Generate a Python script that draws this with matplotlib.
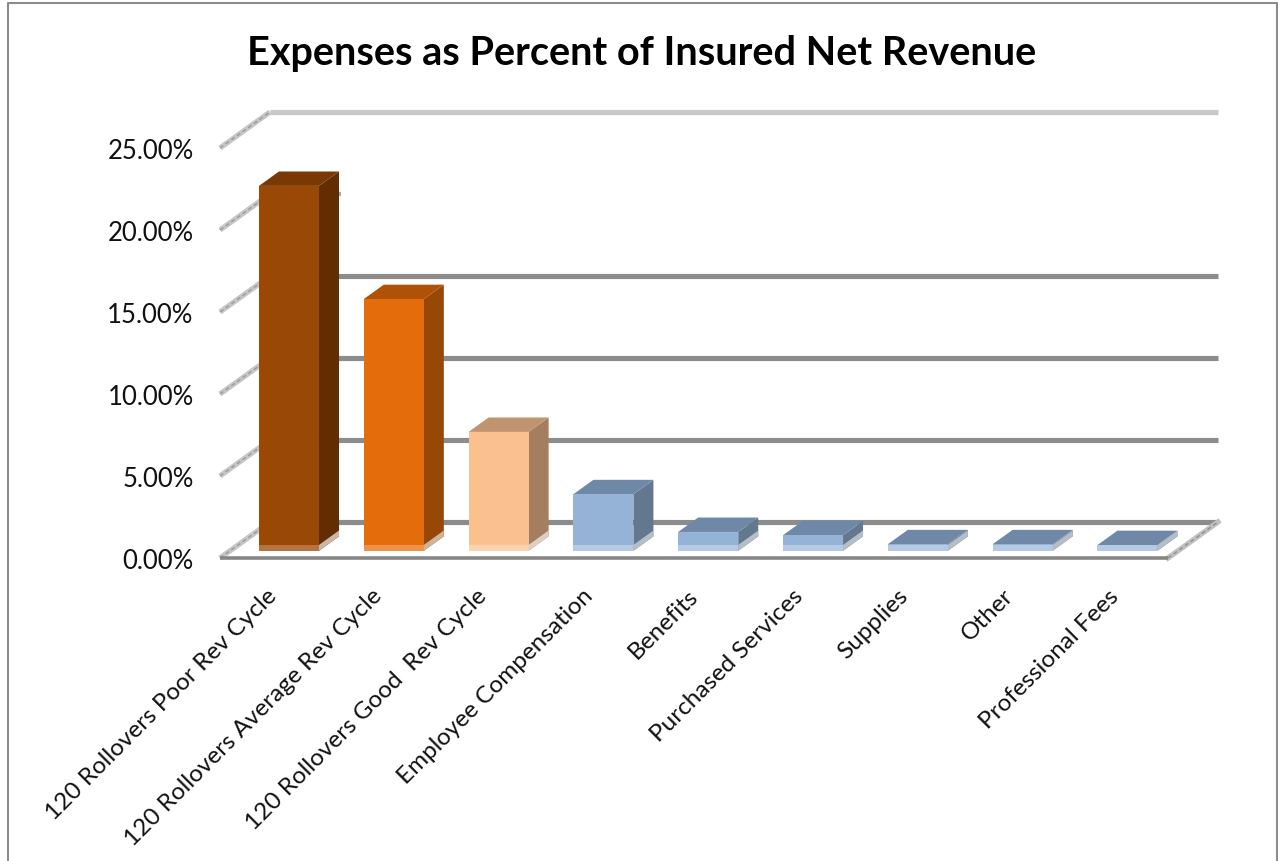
import numpy as np
import matplotlib
matplotlib.use('Agg')
import matplotlib.pyplot as plt
from matplotlib.patches import Polygon
from matplotlib.transforms import ScaledTranslation

W, H = 1278, 862

categories = ['120 Rollovers Poor Rev Cycle', '120 Rollovers Average Rev Cycle',
              '120 Rollovers Good  Rev Cycle', 'Employee Compensation', 'Benefits',
              'Purchased Services', 'Supplies', 'Other', 'Professional Fees']
values = [22.25, 15.35, 7.25, 3.45, 1.15, 0.95, 0.4, 0.4, 0.35]
y_ticks = [0, 5, 10, 15, 20, 25]
y_labels = ['0.00%', '5.00%', '10.00%', '15.00%', '20.00%', '25.00%']

front_colors = ['#9A4806', '#E46C0A', '#FAC090'] + ['#95B3D7'] * 6
side_colors = ['#622D02', '#974706', '#A57E5F'] + ['#63778F'] * 6
top_colors = ['#7A3904', '#AF5207', '#BF946F'] + ['#7088A8'] * 6
foot_colors = ['#B87440', '#EE9248', '#FBD3B0'] + ['#B4CAE4'] * 6
side_foot_colors = ['#C9B8A6', '#D0B49A', '#DCD0C4'] + ['#B4BEC8'] * 6

# depth of the floor in data units
DX = 50 / (948 / 9)
DY = 36 / (410 / 25)


def proj(x, v, d):
    return (x + d * DX, v + d * DY)


plt.rcParams['font.family'] = ['Lato', 'DejaVu Sans']

fig = plt.figure(figsize=(W / 100, H / 100), dpi=100)
ax = fig.add_axes([220 / W, 1 - 559 / H, 948 / W, 410 / H])
ax.set_xlim(0, 9)
ax.set_ylim(0, 25)
for s in ax.spines.values():
    s.set_visible(False)

# side wall lines
for t in y_ticks:
    p0, p1 = proj(0, t, 0), proj(0, t, 1)
    ax.plot([p0[0], p1[0]], [p0[1], p1[1]], color='#c6c6c6', lw=3.8,
            clip_on=False, zorder=1, solid_capstyle='butt')
    ax.plot([p0[0], p1[0]], [p0[1], p1[1]], color='#9a9a9a', lw=1.0, ls=(0, (3, 2)),
            clip_on=False, zorder=1.1)

# back wall lines
for t in y_ticks:
    p0, p1 = proj(0, t, 1), proj(9, t, 1)
    if t == 25:
        ax.plot([p0[0], p1[0]], [p0[1], p1[1]], color='#c8c8c8', lw=3.8,
                clip_on=False, zorder=1, solid_capstyle='butt')
    elif t == 20:
        # only a stub of this one shows beside the first bar
        ax.plot([p0[0], 0.67 + DX], [p0[1], p1[1]], color='#a8a8a8', lw=3.0,
                clip_on=False, zorder=1, solid_capstyle='butt')
    else:
        ax.plot([p0[0], p1[0]], [p0[1], p1[1]], color='#8c8c8c', lw=3.7,
                clip_on=False, zorder=1, solid_capstyle='butt')

# floor edges
p0, p1 = proj(9, 0, 0), proj(9, 0, 1)
ax.plot([p0[0], p1[0]], [p0[1], p1[1]], color='#c0c0c0', lw=3.8, clip_on=False, zorder=1)
ax.plot([p0[0], p1[0]], [p0[1], p1[1]], color='#909090', lw=1.0, ls=(0, (3, 2)),
        clip_on=False, zorder=1.1)
ax.plot([0, 9], [0, 0], color='#868686', lw=2.6, clip_on=False, zorder=1.5,
        solid_capstyle='butt')

# bars, standing a little behind the front edge of the floor
d0, d1 = 0.2, 0.6
first = 0.275
slot = 0.995
width = 0.57
foot_h = 0.36
for i, v in enumerate(values):
    xl = first + i * slot
    xr = xl + width
    z = 5 + i
    front = [proj(xl, 0, d0), proj(xr, 0, d0), proj(xr, v, d0), proj(xl, v, d0)]
    side = [proj(xr, 0, d0), proj(xr, 0, d1), proj(xr, v, d1), proj(xr, v, d0)]
    top = [proj(xl, v, d0), proj(xr, v, d0), proj(xr, v, d1), proj(xl, v, d1)]
    ax.add_patch(Polygon(side, fc=side_colors[i], ec='none', clip_on=False, zorder=z))
    ax.add_patch(Polygon(top, fc=top_colors[i], ec='none', clip_on=False, zorder=z))
    ax.add_patch(Polygon(front, fc=front_colors[i], ec='none', clip_on=False, zorder=z))
    # lighter strips along the foot of each bar
    fv = min(v, foot_h)
    foot = [proj(xl, 0, d0), proj(xr, 0, d0), proj(xr, fv, d0), proj(xl, fv, d0)]
    ax.add_patch(Polygon(foot, fc=foot_colors[i], ec='none', clip_on=False, zorder=z))
    side_foot = [proj(xr, 0, d0), proj(xr, 0, d1), proj(xr, fv, d1), proj(xr, fv, d0)]
    ax.add_patch(Polygon(side_foot, fc=side_foot_colors[i], ec='none', clip_on=False, zorder=z))

ax.set_yticks(y_ticks)
ax.set_yticklabels(y_labels, fontsize=18.5, color='#111111')
ax.set_xticks(np.arange(9) + 0.5)
ax.set_xticklabels(categories, fontsize=17.5, color='#111111', rotation=45, ha='right',
                   rotation_mode='anchor')
ax.tick_params(axis='both', length=0)
ax.tick_params(axis='y', pad=19)
ax.tick_params(axis='x', pad=22)

# nudge the slanted labels back under their slots
shift = ScaledTranslation(-7 / 100, 4 / 100, fig.dpi_scale_trans)
for lab in ax.get_xticklabels():
    lab.set_transform(lab.get_transform() + shift)

fig.text(642 / W, 1 - 53 / H, 'Expenses as Percent of Insured Net Revenue',
         ha='center', va='center', fontsize=28.5, fontweight='bold', color='black')

# chart frame
fig.add_artist(plt.Line2D([8 / W, 8 / W, 1277 / W, 1277 / W],
                          [0, 1 - 4 / H, 1 - 4 / H, 0], color='#8c8c8c', lw=1.5))

fig.savefig('out.png', dpi=100)
